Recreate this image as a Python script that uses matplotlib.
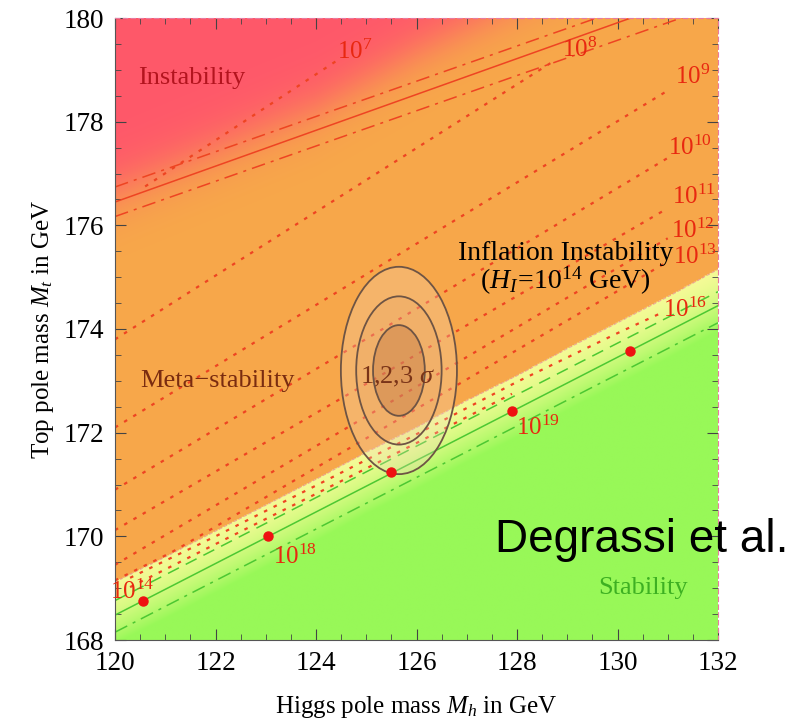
import numpy as np
import matplotlib.pyplot as plt
from matplotlib.patches import Ellipse

# Stability boundary (edge of the orange meta-stable region)
stab_x = [120, 121, 122, 123, 124, 125, 126, 127, 128, 129, 130, 131, 132]
stab_y = [169.12, 169.6, 170.1, 170.6, 171.1, 171.62, 172.1, 172.62, 173.1, 173.62, 174.12, 174.62, 175.15]

# red/orange colour transition (instability region)
red_x = [120, 122, 124, 126, 128, 130, 132]
red_y = [176.65, 177.45, 178.25, 179.35, 180.35, 181.3, 182.2]

# instability lines (solid + two dash-dot)
inst_x = [120, 132]
inst_solid = [176.45, 180.6]
inst_hi = [176.74, 180.82]
inst_lo = [176.17, 180.25]

# green stability lines
green_x = [120, 132]
green_solid = [168.48, 174.45]
green_hi = [168.76, 174.72]
green_lo = [168.15, 174.12]

# dotted instability-scale lines, 10^n GeV
dot_exp = [7, 8, 9, 10, 11, 12, 13]
dot_xl = [120.6, 120.0, 120.0, 120.0, 120.0, 120.0, 120.0]
dot_yl = [176.75, 173.8, 172.1, 170.9, 170.12, 169.45, 169.05]
dot_xr = [124.45, 128.7, 131.0, 131.0, 131.0, 131.0, 131.0]
dot_yr = [179.2, 179.15, 178.6, 177.3, 176.33, 175.75, 175.3]
dot_lab_x = [124.78, 129.25, 131.5, 131.44, 131.52, 131.5, 131.54]
dot_lab_y = [179.34, 179.38, 178.86, 177.49, 176.54, 175.9, 175.39]

# dotted lines inside the yellow band
band_x = [120.3, 122, 124, 126, 128, 130, 130.85]
band_a = [169.2, 170.0, 170.98, 171.97, 172.98, 173.92, 174.3]
band_bx = [120.3, 122, 124, 126, 127.9]
band_b = [169.02, 169.85, 170.82, 171.8, 172.75]

# points on the stability line
pt_x = [120.55, 123.05, 125.5, 127.9, 130.25]
pt_y = [168.75, 170.0, 171.24, 172.41, 173.57]
pt_lab = ["10^{14}", "10^{18}", None, "10^{19}", None]
pt_lab_x = [120.35, 123.58, None, 128.42, None]
pt_lab_y = [168.92, 169.6, None, 172.1, None]

# measured (Mh, Mt) with 1,2,3 sigma ellipses
mh0, mt0 = 125.65, 173.2
sig_a = [0.515, 0.85, 1.155]
sig_b = [0.875, 1.43, 2.0]

plt.rcParams['font.family'] = ['Liberation Serif', 'DejaVu Serif']
plt.rcParams['mathtext.fontset'] = 'custom'
plt.rcParams['mathtext.rm'] = 'Liberation Serif'
plt.rcParams['mathtext.it'] = 'Liberation Serif:italic'

fig = plt.figure(figsize=(8.01, 7.2), dpi=100)
ax = fig.add_axes([115 / 801, 1 - 640 / 720, 603 / 801, 622 / 720])

# background colour map
gx = np.linspace(120, 132, 500)
gy = np.linspace(168, 180, 500)
X, Y = np.meshgrid(gx, gy)
ds = Y - np.interp(X, stab_x, stab_y)
dr = Y - np.interp(X, red_x, red_y)

red = np.array([255, 88, 106]) / 255
orange = np.array([247, 168, 74]) / 255
yellow = np.array([244, 251, 150]) / 255
green = np.array([152, 248, 88]) / 255

w = 1 / (1 + np.exp(-dr / 0.3))
upper = orange * (1 - w[..., None]) + red * w[..., None]
t = np.clip(-ds / 1.2, 0, 1) ** 1.5
lower = yellow * (1 - t[..., None]) + green * t[..., None]
rgb = np.where((ds >= 0)[..., None], upper, lower)
ax.imshow(rgb, extent=[120, 132, 168, 180], origin='lower', aspect='auto',
          interpolation='bilinear', zorder=0)

ax.plot(stab_x, stab_y, color='#e890a0', lw=0.8, ls=(0, (3, 2)), alpha=0.7, zorder=1)

# red instability lines
rc = '#ee4422'
ax.plot(inst_x, inst_solid, color=rc, lw=1.1, zorder=2)
ax.plot(inst_x, inst_hi, color=rc, lw=1.1, ls=(0, (9, 4, 2, 4)), zorder=2)
ax.plot(inst_x, inst_lo, color=rc, lw=1.1, ls=(0, (9, 4, 2, 4)), zorder=2)

# dotted lines
for xl, yl, xr, yr in zip(dot_xl, dot_yl, dot_xr, dot_yr):
    xs = np.linspace(xl, xr, 60)
    ys = np.interp(xs, [xl, xr], [yl, yr])
    ys = np.maximum(ys, np.interp(xs, stab_x, stab_y) + 0.03)
    ax.plot(xs, ys, color=rc, lw=1.6, ls=(0, (1.6, 3.2)), zorder=2)
for n, xx, yy in zip(dot_exp, dot_lab_x, dot_lab_y):
    ax.text(xx, yy, r'$10^{%d}$' % n, color='#e82810', fontsize=18,
            ha='center', va='center', zorder=4)

ax.plot(band_x, band_a, color=rc, lw=1.6, ls=(0, (1.6, 3.2)), zorder=2)
ax.plot(band_bx, band_b, color=rc, lw=1.6, ls=(0, (1.6, 3.2)), zorder=2)
ax.text(131.34, 174.36, r'$10^{16}$', color='#e82810', fontsize=18,
        ha='center', va='center', zorder=4)

# green lines
gc = '#4cc832'
ax.plot(green_x, green_solid, color=gc, lw=1.1, zorder=2)
ax.plot(green_x, green_hi, color=gc, lw=1.1, ls=(0, (8, 5)), zorder=2)
ax.plot(green_x, green_lo, color=gc, lw=1.1, ls=(0, (9, 4, 2, 4)), zorder=2)

# points
ax.plot(pt_x, pt_y, 'o', color='#ee1111', ms=6.5, zorder=5)
for lab, xx, yy in zip(pt_lab, pt_lab_x, pt_lab_y):
    if lab:
        ax.text(xx, yy, '$' + lab + '$', color='#e82810', fontsize=18,
                ha='center', va='center', zorder=4)

# sigma ellipses
fills = [('#b87040', 0.35), ('#c08060', 0.06), ('#f0d8c0', 0.28)]
for a, b, (fc, al) in reversed(list(zip(sig_a, sig_b, fills))):
    ax.add_patch(Ellipse((mh0, mt0), 2 * a, 2 * b, facecolor=fc, alpha=al,
                         edgecolor='none', zorder=3))
    ax.add_patch(Ellipse((mh0, mt0), 2 * a, 2 * b, facecolor='none',
                         edgecolor='#6e5444', lw=1.3, zorder=3))
ax.text(125.63, 173.07, r'1,2,3 $\sigma$', color='#7a3418', fontsize=19,
        ha='center', va='center', zorder=4)

# region labels
ax.text(120.45, 178.85, 'Instability', color='#b3141e', fontsize=19,
        ha='left', va='center', zorder=4)
ax.text(120.5, 173.0, 'Meta\u2212stability', color='#7a2c10', fontsize=19,
        ha='left', va='center', zorder=4)
ax.text(130.5, 169.0, 'Stability', color='#3db022', fontsize=19,
        ha='center', va='center', zorder=4)
ax.text(128.97, 175.46, 'Inflation Instability', color='black', fontsize=20,
        ha='center', va='center', zorder=4)
ax.text(128.97, 174.92, r'($H_I\!=\!10^{14}$ GeV)', color='black', fontsize=20,
        ha='center', va='center', zorder=4)

ax.set_xlim(120, 132)
ax.set_ylim(168, 180)
ax.set_xticks(np.arange(120, 133, 2))
ax.set_yticks(np.arange(168, 181, 2))
ax.set_xticks(np.arange(120, 132.1, 0.5), minor=True)
ax.set_yticks(np.arange(168, 180.1, 0.5), minor=True)
ax.tick_params(which='both', direction='in', top=True, right=True,
               color='#444444', labelsize=19.5, pad=8)
ax.tick_params(which='major', length=8)
ax.tick_params(which='minor', length=4)
for s in ['left', 'bottom']:
    ax.spines[s].set_color('#555555')
for s in ['top', 'right']:
    ax.spines[s].set_color('#e87aa0')
    ax.spines[s].set_linestyle((0, (4, 3)))

ax.set_xlabel(r'Higgs pole mass $M_h$ in GeV', fontsize=18, labelpad=13)
ax.set_ylabel(r'Top pole mass $M_t$ in GeV', fontsize=18, labelpad=5)

fig.text(0.618, 0.25, 'Degrassi et al.', fontsize=33, family='Liberation Sans',
         ha='left', va='center', color='black')

fig.savefig('out.png', dpi=100)
